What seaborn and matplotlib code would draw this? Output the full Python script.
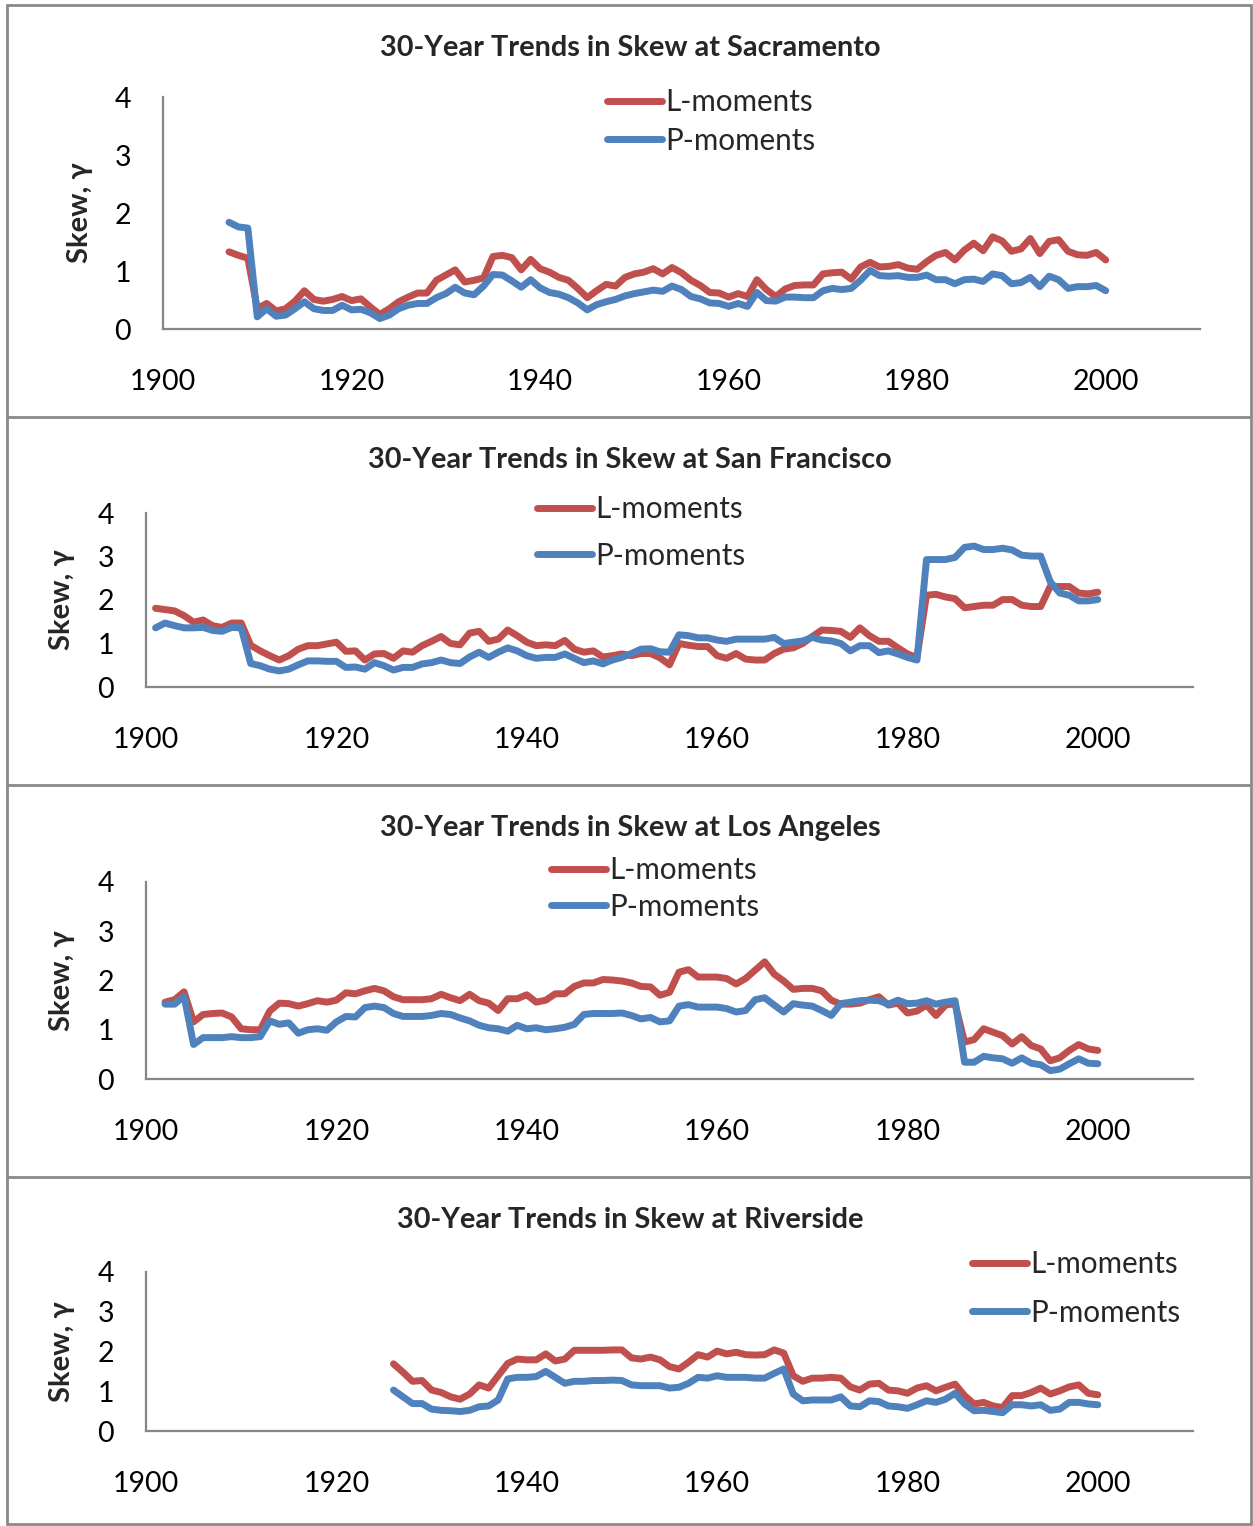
import numpy as np
import pandas as pd
import matplotlib
matplotlib.use("Agg")
import matplotlib.pyplot as plt
from matplotlib.lines import Line2D
import seaborn as sns

# ---------------------------------------------------------------
# 30-year moving skew of annual series, L-moment vs product-moment
# ---------------------------------------------------------------
sac_start = 1907
sac_L = [1.33, 1.27, 1.22, 0.35, 0.44, 0.31, 0.35, 0.48, 0.66, 0.51,
         0.48, 0.51, 0.56, 0.49, 0.52, 0.38, 0.25, 0.35, 0.47, 0.55,
         0.62, 0.62, 0.84, 0.93, 1.02, 0.81, 0.84, 0.88, 1.25, 1.27,
         1.23, 1.02, 1.20, 1.04, 0.98, 0.89, 0.84, 0.70, 0.54, 0.66,
         0.77, 0.74, 0.89, 0.95, 0.98, 1.04, 0.95, 1.06, 0.97, 0.84,
         0.75, 0.63, 0.62, 0.55, 0.61, 0.56, 0.85, 0.68, 0.56, 0.69,
         0.75, 0.76, 0.76, 0.95, 0.97, 0.98, 0.86, 1.07, 1.15, 1.07,
         1.08, 1.11, 1.05, 1.03, 1.16, 1.27, 1.32, 1.19, 1.36, 1.48,
         1.35, 1.59, 1.52, 1.34, 1.38, 1.56, 1.30, 1.51, 1.54, 1.34,
         1.28, 1.27, 1.32, 1.19]
sac_P = [1.84, 1.76, 1.74, 0.21, 0.35, 0.22, 0.24, 0.35, 0.47, 0.35,
         0.32, 0.32, 0.41, 0.33, 0.34, 0.28, 0.18, 0.24, 0.35, 0.41,
         0.44, 0.44, 0.54, 0.61, 0.72, 0.62, 0.59, 0.74, 0.94, 0.93,
         0.83, 0.72, 0.85, 0.71, 0.63, 0.60, 0.54, 0.45, 0.33, 0.42,
         0.47, 0.51, 0.57, 0.61, 0.64, 0.67, 0.65, 0.74, 0.68, 0.56,
         0.52, 0.45, 0.44, 0.39, 0.44, 0.39, 0.63, 0.49, 0.48, 0.55,
         0.55, 0.54, 0.54, 0.66, 0.70, 0.68, 0.70, 0.84, 1.01, 0.92,
         0.91, 0.92, 0.89, 0.89, 0.93, 0.85, 0.85, 0.78, 0.85, 0.86,
         0.82, 0.95, 0.92, 0.78, 0.80, 0.89, 0.73, 0.91, 0.85, 0.70,
         0.73, 0.73, 0.75, 0.66]

sf_start = 1901
sf_L = [1.81, 1.78, 1.75, 1.64, 1.49, 1.54, 1.41, 1.37, 1.47, 1.47,
        0.96, 0.83, 0.72, 0.62, 0.72, 0.87, 0.95, 0.95, 0.99, 1.03,
        0.82, 0.83, 0.62, 0.76, 0.77, 0.66, 0.83, 0.80, 0.95, 1.05,
        1.16, 1.00, 0.97, 1.24, 1.28, 1.05, 1.10, 1.31, 1.18, 1.03,
        0.95, 0.97, 0.95, 1.07, 0.87, 0.80, 0.83, 0.69, 0.72, 0.76,
        0.72, 0.77, 0.77, 0.67, 0.51, 1.00, 0.96, 0.93, 0.93, 0.72,
        0.66, 0.77, 0.64, 0.62, 0.62, 0.77, 0.87, 0.90, 1.00, 1.16,
        1.31, 1.30, 1.28, 1.14, 1.36, 1.18, 1.05, 1.05, 0.90, 0.76,
        0.68, 2.11, 2.13, 2.07, 2.03, 1.82, 1.85, 1.88, 1.88, 2.01,
        2.01, 1.88, 1.85, 1.85, 2.31, 2.31, 2.31, 2.16, 2.14, 2.18]
sf_P = [1.36, 1.47, 1.41, 1.36, 1.36, 1.37, 1.30, 1.28, 1.37, 1.36,
        0.54, 0.49, 0.41, 0.37, 0.41, 0.51, 0.60, 0.60, 0.59, 0.59,
        0.45, 0.46, 0.41, 0.56, 0.49, 0.39, 0.45, 0.45, 0.53, 0.56,
        0.62, 0.56, 0.54, 0.69, 0.80, 0.68, 0.80, 0.90, 0.83, 0.72,
        0.66, 0.68, 0.68, 0.76, 0.66, 0.56, 0.60, 0.53, 0.62, 0.68,
        0.77, 0.87, 0.88, 0.81, 0.80, 1.20, 1.18, 1.13, 1.13, 1.08,
        1.05, 1.10, 1.10, 1.10, 1.10, 1.14, 1.00, 1.03, 1.06, 1.14,
        1.08, 1.06, 1.00, 0.83, 0.95, 0.95, 0.79, 0.83, 0.76, 0.68,
        0.62, 2.93, 2.93, 2.93, 2.98, 3.21, 3.24, 3.16, 3.16, 3.19,
        3.15, 3.03, 3.01, 3.01, 2.42, 2.16, 2.11, 1.98, 1.98, 2.01]

la_start = 1902
la_L = [1.56, 1.61, 1.77, 1.16, 1.31, 1.33, 1.34, 1.26, 1.02, 1.00,
        1.00, 1.38, 1.54, 1.53, 1.48, 1.53, 1.59, 1.56, 1.60, 1.75,
        1.73, 1.79, 1.84, 1.79, 1.67, 1.61, 1.61, 1.61, 1.63, 1.72,
        1.65, 1.59, 1.72, 1.59, 1.54, 1.39, 1.63, 1.63, 1.71, 1.56,
        1.60, 1.73, 1.73, 1.88, 1.95, 1.95, 2.02, 2.01, 1.99, 1.95,
        1.88, 1.87, 1.70, 1.76, 2.17, 2.22, 2.07, 2.07, 2.07, 2.04,
        1.93, 2.04, 2.21, 2.38, 2.13, 1.99, 1.82, 1.84, 1.84, 1.79,
        1.60, 1.52, 1.52, 1.54, 1.61, 1.67, 1.50, 1.54, 1.34, 1.38,
        1.50, 1.29, 1.50, 1.53, 0.75, 0.80, 1.02, 0.95, 0.88, 0.71,
        0.86, 0.68, 0.61, 0.37, 0.43, 0.58, 0.70, 0.61, 0.58]
la_P = [1.52, 1.52, 1.68, 0.70, 0.84, 0.84, 0.84, 0.86, 0.84, 0.84,
        0.86, 1.18, 1.11, 1.14, 0.93, 1.00, 1.02, 0.99, 1.16, 1.27,
        1.26, 1.45, 1.48, 1.45, 1.33, 1.27, 1.27, 1.27, 1.29, 1.33,
        1.31, 1.24, 1.18, 1.09, 1.04, 1.02, 0.97, 1.09, 1.02, 1.04,
        1.00, 1.02, 1.05, 1.11, 1.31, 1.33, 1.33, 1.33, 1.34, 1.29,
        1.22, 1.25, 1.16, 1.18, 1.48, 1.51, 1.46, 1.46, 1.46, 1.43,
        1.36, 1.39, 1.61, 1.65, 1.50, 1.36, 1.53, 1.50, 1.48, 1.39,
        1.29, 1.53, 1.56, 1.59, 1.60, 1.59, 1.52, 1.60, 1.53, 1.54,
        1.59, 1.52, 1.56, 1.59, 0.34, 0.34, 0.46, 0.43, 0.41, 0.32,
        0.43, 0.32, 0.29, 0.17, 0.20, 0.31, 0.41, 0.32, 0.31]

rv_start = 1926
rv_L = [1.69, 1.48, 1.25, 1.27, 1.03, 0.97, 0.86, 0.80, 0.93, 1.16,
        1.08, 1.39, 1.70, 1.81, 1.79, 1.79, 1.94, 1.76, 1.81, 2.03,
        2.03, 2.03, 2.03, 2.04, 2.04, 1.84, 1.81, 1.86, 1.79, 1.62,
        1.56, 1.73, 1.92, 1.86, 2.01, 1.94, 1.98, 1.92, 1.91, 1.92,
        2.04, 1.96, 1.39, 1.25, 1.33, 1.33, 1.35, 1.33, 1.11, 1.03,
        1.18, 1.20, 1.03, 1.01, 0.95, 1.08, 1.14, 1.01, 1.10, 1.18,
        0.89, 0.68, 0.72, 0.63, 0.59, 0.89, 0.89, 0.97, 1.08, 0.93,
        1.01, 1.11, 1.16, 0.95, 0.91]
rv_P = [1.03, 0.86, 0.69, 0.69, 0.55, 0.52, 0.51, 0.49, 0.52, 0.61,
        0.63, 0.78, 1.31, 1.35, 1.35, 1.37, 1.50, 1.35, 1.20, 1.25,
        1.25, 1.27, 1.27, 1.28, 1.27, 1.16, 1.14, 1.14, 1.14, 1.08,
        1.10, 1.20, 1.35, 1.33, 1.39, 1.35, 1.35, 1.35, 1.33, 1.33,
        1.45, 1.56, 0.93, 0.76, 0.78, 0.78, 0.78, 0.86, 0.63, 0.61,
        0.76, 0.74, 0.63, 0.61, 0.57, 0.66, 0.76, 0.72, 0.80, 0.95,
        0.68, 0.51, 0.52, 0.49, 0.46, 0.66, 0.66, 0.63, 0.66, 0.52,
        0.55, 0.72, 0.72, 0.68, 0.66]

stations = ["Sacramento", "San Francisco", "Los Angeles", "Riverside"]
methods = ["L-moments", "P-moments"]
x_ticks = list(range(1900, 2011, 10))
x_labels = [str(t) if (t % 20 == 0 and t <= 2000) else "" for t in x_ticks]
y_ticks = [0, 1, 2, 3, 4]

# ---------------------------------------------------------------
sns.set_theme(style="white")
plt.rcParams["font.family"] = ["Lato", "DejaVu Sans"]

W, H = 1253, 1526
fig = plt.figure(figsize=(W / 100, H / 100), dpi=100)


def fx(px):
    return px / W


def fy(py):
    return 1 - py / H


palette = {"L-moments": "#C0504D", "P-moments": "#4F81BD"}
axis_grey = "#868686"

# layout of each panel (pixel units)
layout = [
    dict(box=(163, 1200, 97, 329), title_y=48, ylab_x=80, leg=(607, 121.5), leg_sp=0.35),
    dict(box=(146, 1193, 513, 687), title_y=460, ylab_x=62, leg=(537, 532.5), leg_sp=0.62),
    dict(box=(146, 1193, 882, 1079), title_y=828, ylab_x=62, leg=(551, 888.5), leg_sp=0.28),
    dict(box=(146, 1193, 1272, 1431), title_y=1220, ylab_x=62, leg=(972, 1288.5), leg_sp=0.68),
]
series = [
    (sac_start, sac_L, sac_P),
    (sf_start, sf_L, sf_P),
    (la_start, la_L, la_P),
    (rv_start, rv_L, rv_P),
]

for name, (start, l_vals, p_vals), lay in zip(stations, series, layout):
    years = np.arange(start, start + len(l_vals))
    df = pd.DataFrame({
        "Year": np.concatenate([years, years]),
        "Skew": np.concatenate([l_vals, p_vals]),
        "Method": [methods[0]] * len(years) + [methods[1]] * len(years),
    })
    left, right, top, bottom = lay["box"]
    ax = fig.add_axes([fx(left), fy(bottom), (right - left) / W, (bottom - top) / H])
    sns.lineplot(data=df, x="Year", y="Skew", hue="Method", hue_order=methods,
                 palette=palette, linewidth=5.0, estimator=None, legend=False, ax=ax)
    for ln in ax.lines:
        ln.set_solid_capstyle("round")
        ln.set_solid_joinstyle("round")

    ax.set_xlim(1900, 2010)
    ax.set_ylim(0, 4)
    ax.set_xticks(x_ticks)
    ax.set_xticklabels(x_labels)
    ax.set_yticks(y_ticks)
    ax.set_xlabel("")
    ax.set_ylabel("")
    for side in ("top", "right"):
        ax.spines[side].set_visible(False)
    for side in ("left", "bottom"):
        ax.spines[side].set_color(axis_grey)
        ax.spines[side].set_linewidth(1.6)
    ax.tick_params(axis="both", direction="out", length=9, width=1.5,
                   color=axis_grey, labelsize=20.5, labelcolor="black")
    ax.tick_params(axis="x", pad=19.5)
    ax.tick_params(axis="y", pad=14)
    for lab in ax.get_xticklabels() + ax.get_yticklabels():
        lab.set_fontfamily(["Lato", "DejaVu Sans"])

    fig.text(fx(630), fy(lay["title_y"]), f"30-Year Trends in Skew at {name}",
             ha="center", va="center", fontsize=20.8, fontweight="bold")
    fig.text(fx(lay["ylab_x"]), fy((top + bottom) / 2), "Skew, γ", rotation=90,
             ha="center", va="center", fontsize=21, fontweight="bold")

    lx, ly = lay["leg"]
    ax.legend(handles=ax.lines[:2], labels=methods, loc="center left",
              bbox_to_anchor=(fx(lx), fy(ly)), bbox_transform=fig.transFigure,
              frameon=False, borderpad=0, borderaxespad=0, handlelength=1.85,
              handletextpad=0.13, labelspacing=lay["leg_sp"], fontsize=21.3)

# chart frames
frame_col = "#8A8A8A"
for y in (5, 416.5, 784.5, 1176.5, 1524):
    fig.add_artist(Line2D([fx(7), fx(1251)], [fy(y), fy(y)],
                          transform=fig.transFigure, color=frame_col, lw=2))
for x in (7, 1251):
    fig.add_artist(Line2D([fx(x), fx(x)], [fy(5), fy(1524)],
                          transform=fig.transFigure, color=frame_col, lw=2))

fig.savefig("out.png", dpi=100, facecolor="white")
